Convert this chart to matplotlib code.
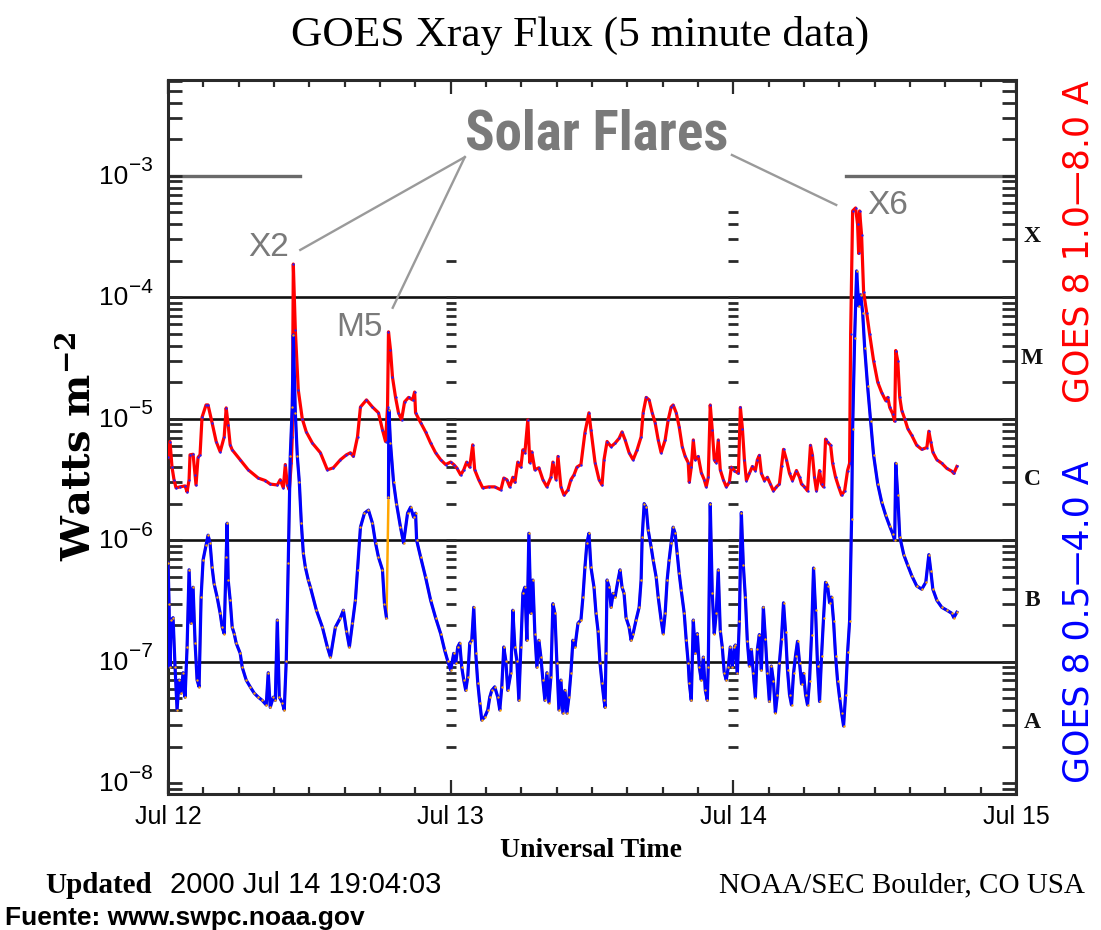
import numpy as np
import matplotlib
matplotlib.use("Agg")
import matplotlib.pyplot as plt
from matplotlib import font_manager
from matplotlib.ticker import FixedLocator, FixedFormatter, LogLocator, MultipleLocator, NullFormatter
from matplotlib.transforms import blended_transform_factory, offset_copy

# hours since 2000 Jul 12 00:00 UT, flux in W m^-2
red_hours = [
    0.00, 0.17, 0.34, 0.51, 0.68, 1.02, 1.45, 1.62, 1.79, 1.87,
    2.13, 2.30, 2.38, 2.55, 2.72, 2.89, 3.23, 3.40, 3.74, 4.09,
    4.43, 4.77, 4.94, 5.11, 5.28, 5.45, 6.13, 6.81, 7.66, 8.26,
    8.68, 9.28, 9.53, 9.79, 9.96, 10.13, 10.30, 10.47, 10.55, 10.64,
    10.81, 11.06, 11.40, 11.74, 12.26, 12.94, 13.53, 14.04, 14.64, 15.15,
    15.49, 15.74, 16.09, 16.34, 16.85, 17.36, 17.87, 18.21, 18.47, 18.64,
    18.72, 18.89, 19.06, 19.32, 19.57, 19.83, 20.09, 20.43, 20.77, 20.94,
    21.02, 21.45, 21.87, 22.30, 22.72, 23.15, 23.57,
    24.00, 24.26, 24.51, 24.85, 25.11, 25.36, 25.62, 25.87, 26.04, 26.38,
    26.72, 27.23, 27.74, 28.26, 28.51, 28.77, 29.02, 29.28, 29.45, 29.70,
    29.96, 30.13, 30.30, 30.55, 30.72, 30.89, 31.15, 31.49, 31.83, 32.17,
    32.51, 32.68, 32.94, 33.11, 33.36, 33.62, 33.96, 34.21, 34.47, 34.72,
    35.06, 35.40, 35.74, 35.91, 36.26, 36.60, 36.85, 37.02, 37.28, 37.62,
    37.96, 38.30, 38.55, 38.81, 39.15, 39.49, 39.83, 40.17, 40.34, 40.60,
    40.85, 41.11, 41.36, 41.62, 41.87, 42.21, 42.47, 42.72, 42.89, 43.15,
    43.40, 43.66, 43.91, 44.17, 44.26, 44.43, 44.60, 44.77, 45.02, 45.28,
    45.53, 45.70, 45.87, 46.04, 46.21, 46.38, 46.55, 46.72, 46.89, 47.15,
    47.40, 47.66, 47.83,
    48.09, 48.43, 48.60, 48.77, 48.94, 49.11, 49.36, 49.62, 49.87, 50.04,
    50.21, 50.38, 50.64, 50.89, 51.15, 51.40, 51.66, 51.91, 52.09, 52.26,
    52.51, 52.77, 53.02, 53.36, 53.62, 53.79, 54.04, 54.30, 54.55, 54.72,
    54.89, 55.06, 55.32, 55.49, 55.66, 55.83, 56.00, 56.26, 56.43, 56.68,
    56.94, 57.19, 57.45, 57.70, 57.87, 57.96, 58.13, 58.38, 58.55, 58.64,
    58.72, 58.89, 59.06, 59.32, 59.57, 59.91, 60.26, 60.60, 60.94, 61.11,
    61.28, 61.53, 61.70, 61.79, 61.96, 62.13, 62.30, 62.55, 62.81, 63.15,
    63.57, 64.00, 64.43, 64.60, 64.77, 64.94, 65.28, 65.70, 66.13, 66.55,
    66.72, 66.98,
]
red_flux = [
    4.8e-6, 6.5e-6, 4.0e-6, 3.15e-6, 2.7e-6, 2.75e-6, 2.8e-6, 2.5e-6, 3.15e-6, 5.05e-6,
    5.1e-6, 3.45e-6, 2.85e-6, 4.8e-6, 5.05e-6, 1.03e-5, 1.3e-5, 1.3e-5, 9.3e-6, 6.5e-6,
    5.35e-6, 7.1e-6, 1.23e-5, 8.9e-6, 6.1e-6, 5.55e-6, 4.6e-6, 3.8e-6, 3.25e-6, 3.1e-6,
    2.9e-6, 2.85e-6, 3.15e-6, 2.7e-6, 4.2e-6, 2.85e-6, 2.6e-6, 4.35e-6, 7.1e-6, 1.88e-4,
    5.4e-5, 1.73e-5, 1.0e-5, 7.8e-6, 6.3e-6, 5.25e-6, 3.8e-6, 3.95e-6, 4.6e-6, 5.05e-6,
    5.25e-6, 4.9e-6, 7.1e-6, 1.25e-5, 1.43e-5, 1.25e-5, 1.12e-5, 8.1e-6, 6.5e-6, 1.25e-5,
    5.2e-5, 3.7e-5, 2.2e-5, 1.5e-5, 1.12e-5, 9.8e-6, 1.38e-5, 1.5e-5, 1.43e-5, 1.66e-5,
    1.12e-5, 9.3e-6, 7.8e-6, 6.3e-6, 5.25e-6, 4.6e-6, 4.2e-6,
    4.4e-6, 4.2e-6, 3.95e-6, 3.45e-6, 3.8e-6, 4.4e-6, 4.0e-6, 6.1e-6, 3.8e-6, 3.15e-6,
    2.7e-6, 2.75e-6, 2.75e-6, 2.6e-6, 3.25e-6, 3.15e-6, 2.75e-6, 3.3e-6, 3.0e-6, 4.4e-6,
    4.0e-6, 5.55e-6, 5.25e-6, 9.8e-6, 4.35e-6, 5.35e-6, 3.8e-6, 3.95e-6, 3.15e-6, 2.75e-6,
    3.3e-6, 4.4e-6, 3.15e-6, 4.9e-6, 2.75e-6, 2.35e-6, 2.6e-6, 3.15e-6, 3.45e-6, 4.0e-6,
    4.2e-6, 7.7e-6, 1.12e-5, 8.1e-6, 4.35e-6, 3.15e-6, 2.85e-6, 4.6e-6, 6.5e-6, 5.9e-6,
    6.3e-6, 6.9e-6, 7.8e-6, 6.7e-6, 5.25e-6, 4.6e-6, 5.55e-6, 7.1e-6, 1.12e-5, 1.5e-5,
    1.43e-5, 1.12e-5, 9.3e-6, 6.7e-6, 5.25e-6, 6.7e-6, 9.8e-6, 1.25e-5, 1.3e-5, 1.12e-5,
    8.6e-6, 5.9e-6, 4.9e-6, 4.35e-6, 3.0e-6, 4.0e-6, 6.7e-6, 4.6e-6, 4.9e-6, 3.6e-6,
    3.15e-6, 2.75e-6, 3.3e-6, 1.3e-5, 8.1e-6, 4.6e-6, 4.35e-6, 6.7e-6, 3.8e-6, 3.15e-6,
    2.75e-6, 3.0e-6, 4.0e-6,
    3.75e-6, 3.55e-6, 1.24e-5, 8.3e-6, 4.6e-6, 3.1e-6, 3.55e-6, 4.05e-6, 3.75e-6, 4.6e-6,
    5.0e-6, 3.55e-6, 3.1e-6, 3.3e-6, 2.9e-6, 2.55e-6, 2.75e-6, 2.9e-6, 4.05e-6, 5.6e-6,
    4.6e-6, 3.55e-6, 3.1e-6, 3.75e-6, 3.3e-6, 2.9e-6, 2.75e-6, 2.55e-6, 6.05e-6, 5.0e-6,
    3.3e-6, 2.55e-6, 3.75e-6, 2.9e-6, 2.75e-6, 6.8e-6, 6.4e-6, 6.05e-6, 4.3e-6, 3.3e-6,
    2.75e-6, 2.35e-6, 2.55e-6, 3.75e-6, 4.3e-6, 5.0e-5, 5.15e-4, 5.45e-4, 4.0e-4, 2.3e-4,
    5.15e-4, 3.25e-4, 1.11e-4, 7.5e-5, 5.0e-5, 3.0e-5, 2.0e-5, 1.64e-5, 1.41e-5, 1.5e-5,
    1.24e-5, 1.1e-5, 9.55e-6, 3.65e-5, 3.0e-5, 1.5e-5, 1.17e-5, 1.0e-5, 8.3e-6, 7.3e-6,
    6.05e-6, 5.6e-6, 5.8e-6, 7.9e-6, 6.4e-6, 5.3e-6, 4.6e-6, 4.3e-6, 3.9e-6, 3.7e-6,
    3.55e-6, 4.05e-6,
]

blue_hours = [
    0.00, 0.09, 0.17, 0.26, 0.43, 0.60, 0.77, 0.94, 1.11, 1.28,
    1.45, 1.62, 1.79, 1.96, 2.13, 2.30, 2.47, 2.64, 2.81, 2.98,
    3.23, 3.40, 3.57, 3.74, 3.91, 4.17, 4.43, 4.60, 4.77, 4.94,
    5.02, 5.11, 5.28, 5.45, 5.62, 5.79, 6.13, 6.30, 6.64, 6.98,
    7.32, 7.66, 8.00, 8.34, 8.51, 8.68, 8.94, 9.11, 9.28, 9.45,
    9.70, 9.87, 10.04, 10.21, 10.38, 10.55, 10.64, 10.81, 10.98, 11.15,
    11.32, 11.49, 11.66, 11.91, 12.09, 12.60, 13.11, 13.53, 13.79, 14.21,
    14.64, 14.89, 15.15, 15.40, 15.66, 15.91, 16.09, 16.34, 16.68, 17.02,
    17.36, 17.62, 17.87, 18.21, 18.38, 18.55,
    18.72, 18.75, 18.89, 19.15, 19.40, 19.74, 20.00, 20.34, 20.60, 20.85,
    21.02, 21.11, 21.45, 21.87, 22.30, 22.72, 23.15, 23.49, 23.74,
    24.00, 24.26, 24.43, 24.60, 24.77, 24.94, 25.11, 25.28, 25.45, 25.62,
    25.79, 25.96, 26.13, 26.30, 26.47, 26.64, 26.89, 27.15, 27.32, 27.49,
    27.74, 28.00, 28.17, 28.34, 28.51, 28.68, 28.85, 29.11, 29.28, 29.45,
    29.62, 29.79, 29.96, 30.13, 30.30, 30.47, 30.64, 30.81, 30.98, 31.15,
    31.32, 31.49, 31.66, 31.83, 32.00, 32.17, 32.34, 32.51, 32.68, 32.85,
    33.02, 33.19, 33.36, 33.53, 33.70, 33.87, 34.04, 34.21, 34.38, 34.55,
    34.81, 35.06, 35.23, 35.40, 35.57, 35.74, 35.91, 36.17, 36.34, 36.51,
    36.68, 36.85, 37.02, 37.11, 37.19, 37.28, 37.45, 37.62, 37.79, 37.96,
    38.21, 38.38, 38.55, 38.72, 38.89, 39.15, 39.32, 39.49, 39.74, 40.00,
    40.17, 40.26, 40.43, 40.60, 40.77, 41.02, 41.19, 41.45, 41.62, 41.87,
    42.04, 42.21, 42.38, 42.55, 42.72, 42.89, 43.06, 43.23, 43.40, 43.57,
    43.83, 44.00, 44.17, 44.26, 44.43, 44.60, 44.77, 44.94, 45.11, 45.28,
    45.45, 45.62, 45.79, 45.87, 46.04, 46.21, 46.38, 46.55, 46.72, 46.89,
    47.06, 47.23, 47.40, 47.57, 47.74, 47.91, 48.09,
    48.17, 48.34, 48.51, 48.68, 48.85, 49.02, 49.19, 49.36, 49.53, 49.70,
    49.87, 50.04, 50.21, 50.38, 50.55, 50.72, 50.89, 51.06, 51.23, 51.40,
    51.57, 51.74, 51.91, 52.09, 52.26, 52.43, 52.60, 52.77, 52.94, 53.11,
    53.28, 53.45, 53.62, 53.79, 53.96, 54.13, 54.30, 54.47, 54.64, 54.81,
    54.98, 55.15, 55.32, 55.49, 55.66, 55.83, 56.00, 56.17, 56.34, 56.51,
    56.68, 56.85, 57.02, 57.19, 57.36, 57.53, 57.70, 57.87, 58.04, 58.13,
    58.30, 58.47, 58.64, 58.81, 58.98, 59.15, 59.40, 59.66, 59.91, 60.26,
    60.60, 60.94, 61.28, 61.53, 61.70, 61.79, 61.96, 62.13, 62.47, 62.81,
    63.15, 63.57, 64.00, 64.34, 64.60, 64.77, 64.94, 65.28, 65.70, 66.13,
    66.55, 66.72, 66.98,
]
blue_flux = [
    6.5e-7, 3.0e-7, 9.0e-8, 2.2e-7, 2.3e-7, 9.0e-8, 4.0e-8, 7.05e-8, 5.5e-8, 8.1e-8,
    5.1e-8, 1.32e-7, 5.7e-7, 2.07e-7, 4.1e-7, 1.42e-7, 7.05e-8, 6.2e-8, 3.4e-7, 6.9e-7,
    9.1e-7, 1.1e-6, 9.5e-7, 6.0e-7, 4.4e-7, 3.4e-7, 2.5e-7, 1.92e-7, 1.7e-7, 7.25e-7,
    1.38e-6, 4.7e-7, 3.2e-7, 1.92e-7, 1.7e-7, 1.42e-7, 1.17e-7, 9.0e-8, 7.05e-8, 6.2e-8,
    5.5e-8, 5.1e-8, 4.8e-8, 4.4e-8, 8.1e-8, 4.2e-8, 5.1e-8, 4.8e-8, 2.2e-7, 5.1e-8,
    4.6e-8, 4.0e-8, 1.02e-7, 6.5e-7, 4.9e-6, 1.25e-5, 4.9e-5, 1.12e-5, 4.9e-6, 3.0e-6,
    1.38e-6, 7.8e-7, 6.0e-7, 4.7e-7, 4.1e-7, 2.65e-7, 1.92e-7, 1.32e-7, 1.09e-7, 1.92e-7,
    2.3e-7, 2.65e-7, 1.8e-7, 1.32e-7, 2.07e-7, 3.2e-7, 5.7e-7, 1.28e-6, 1.67e-6, 1.77e-6,
    1.38e-6, 9.5e-7, 7.25e-7, 5.7e-7, 3.0e-7, 2.3e-7,
    2.26e-6, 1.18e-5, 6.3e-6, 3.0e-6, 2.0e-6, 1.28e-6, 9.5e-7, 1.67e-6, 1.87e-6, 1.55e-6,
    1.67e-6, 1.0e-6, 7.25e-7, 4.95e-7, 3.2e-7, 2.3e-7, 1.7e-7, 1.24e-7, 1.02e-7,
    8.5e-8, 1.17e-7, 9.7e-8, 1.32e-7, 1.42e-7, 9.0e-8, 7.05e-8, 5.8e-8, 7.5e-8, 1.42e-7,
    1.5e-7, 2.8e-7, 1.17e-7, 6.7e-8, 4.6e-8, 3.3e-8, 3.5e-8, 4.0e-8, 5.1e-8, 5.8e-8,
    6.2e-8, 5.1e-8, 4.0e-8, 6.2e-8, 1.32e-7, 1.02e-7, 5.8e-8, 8.1e-8, 2.65e-7, 1.32e-7,
    1.02e-7, 4.8e-8, 1.32e-7, 3.65e-7, 4.1e-7, 1.5e-7, 1.14e-6, 2.5e-7, 4.7e-7, 1.7e-7,
    9.0e-8, 1.5e-7, 1.09e-7, 7.05e-8, 4.8e-8, 8.1e-8, 4.6e-8, 7.5e-8, 3.0e-7, 2.5e-7,
    9.7e-8, 4.0e-8, 7.05e-8, 3.77e-8, 5.8e-8, 3.77e-8, 5.1e-8, 8.1e-8, 1.5e-7, 1.32e-7,
    2.07e-7, 2.2e-7, 3.4e-7, 6.0e-7, 9.5e-7, 1.14e-6, 6.0e-7, 4.1e-7, 2.5e-7, 1.8e-7,
    9.7e-8, 6.7e-8, 4.8e-8, 4.2e-8, 1.17e-7, 4.7e-7, 4.1e-7, 2.8e-7, 3.65e-7, 3.4e-7,
    4.7e-7, 5.7e-7, 4.1e-7, 3.65e-7, 2.3e-7, 1.92e-7, 1.5e-7, 1.7e-7, 2.2e-7, 2.8e-7,
    4.7e-7, 1.06e-6, 2.0e-6, 1.87e-6, 1.21e-6, 8.8e-7, 6.9e-7, 4.95e-7, 3.4e-7, 2.2e-7,
    1.7e-7, 2.5e-7, 4.7e-7, 6.9e-7, 9.5e-7, 1.28e-6, 1.14e-6, 7.8e-7, 5.35e-7, 3.9e-7,
    2.5e-7, 1.5e-7, 9.7e-8, 6.7e-8, 4.8e-8, 2.2e-7, 1.17e-7, 1.7e-7, 9.0e-8, 7.05e-8,
    1.09e-7, 5.8e-8, 4.8e-8, 9.0e-8, 2.0e-6, 3.65e-7, 1.7e-7, 2.5e-7, 5.7e-7, 1.8e-7,
    1.32e-7, 8.1e-8, 7.05e-8, 9.0e-8, 1.32e-7, 9.0e-8, 1.32e-7,
    1.37e-7, 8.0e-8, 2.15e-7, 1.69e-6, 6.2e-7, 3.4e-7, 1.47e-7, 9.2e-8, 1.26e-7, 8.0e-8,
    5.05e-8, 1.26e-7, 1.67e-7, 8.5e-8, 2.8e-7, 1.55e-7, 8.0e-8, 4.7e-8, 9.2e-8, 6.95e-8,
    3.8e-8, 5.35e-8, 9.75e-8, 1.55e-7, 3.05e-7, 1.77e-7, 8.5e-8, 5.35e-8, 4.4e-8, 8.0e-8,
    1.12e-7, 1.47e-7, 9.75e-8, 6.55e-8, 8.0e-8, 5.35e-8, 4.4e-8, 6.95e-8, 1.67e-7, 5.9e-7,
    2.65e-7, 9.2e-8, 4.7e-8, 1.12e-7, 2.3e-7, 4.5e-7, 4.2e-7, 3.05e-7, 3.4e-7, 2.15e-7,
    1.12e-7, 6.95e-8, 5.05e-8, 3.8e-8, 2.95e-8, 5.35e-8, 1.19e-7, 2.15e-7, 1.5e-6, 8.3e-6,
    4.65e-5, 1.65e-4, 8.5e-5, 1.05e-4, 7.5e-5, 3.85e-5, 1.85e-5, 9.55e-6, 5.0e-6, 2.9e-6,
    2.05e-6, 1.6e-6, 1.3e-6, 1.13e-6, 1.0e-6, 4.3e-6, 2.35e-6, 1.07e-6, 7.6e-7, 6.2e-7,
    5.1e-7, 4.2e-7, 3.95e-7, 4.5e-7, 7.6e-7, 5.55e-7, 3.95e-7, 3.2e-7, 2.8e-7, 2.65e-7,
    2.5e-7, 2.3e-7, 2.55e-7,
]
# short drop-out in the 0.5-4.0 A channel just before the M5 flare
blue_gap_after = 18.55

day_ticks = [0, 24, 48, 72]
day_labels = ["Jul 12", "Jul 13", "Jul 14", "Jul 15"]
decades = [1e-8, 1e-7, 1e-6, 1e-5, 1e-4, 1e-3]
exponents = ["\u22128", "\u22127", "\u22126", "\u22125", "\u22124", "\u22123"]
class_letters = ["X", "M", "C", "B", "A"]
class_centres = [3.16e-4, 3.16e-5, 3.16e-6, 3.16e-7, 3.16e-8]

installed = {f.name for f in font_manager.fontManager.ttflist}
narrow = "Liberation Sans"
for cand in ["Liberation Sans Narrow", "Roboto Condensed", "Open Sans Condensed", "Arial Narrow"]:
    if cand in installed:
        narrow = cand
        break

plt.rcParams["font.family"] = ["Liberation Sans", "DejaVu Sans"]
plt.rcParams["mathtext.default"] = "regular"

W, H = 1101, 930
fig = plt.figure(figsize=(W / 100, H / 100), dpi=100)
ax = fig.add_axes([168 / W, 1 - 794 / H, 848 / W, 714 / H])
ax.set_yscale("log")
ax.set_xlim(0, 72)
ax.set_ylim(10 ** -8.09, 10 ** -2.21)
renderer = fig.canvas.get_renderer()


def fit(t, size_px, vertical=False):
    # scale font so the text spans size_px pixels
    bb = t.get_window_extent(renderer)
    cur = bb.height if vertical else bb.width
    t.set_fontsize(t.get_fontsize() * size_px / cur)


grey = "#7a7a7a"
dark = "#2a2a2a"

# class boundaries
for v in [1e-4, 1e-5, 1e-6, 1e-7]:
    ax.axhline(v, color="#111111", lw=1.9, zorder=1)
ax.axhline(1e-3, xmin=0, xmax=0.156, color="#6a6a6a", lw=2.4, zorder=1)
ax.axhline(1e-3, xmin=0.80, xmax=1, color="#6a6a6a", lw=2.4, zorder=1)

# dashed tick columns at the day boundaries
minor_vals = np.array([m * 10.0 ** d for d in range(-8, -2) for m in range(1, 10)])
for day, top in [(24, 2.5e-4), (48, 5.5e-4)]:
    vals = minor_vals[(minor_vals > 1.5e-8) & (minor_vals < top)]
    ax.plot(np.full(len(vals), day), vals, ls="none", marker="_", ms=7, mew=2,
            color=dark, zorder=2)

rh = np.array(red_hours)
rf = np.array(red_flux)
bh = np.array(blue_hours)
bf = np.array(blue_flux)

ax.plot(rh, rf, color="#ff0000", lw=2.3, zorder=3,
        marker="o", ms=1.7, mfc="#2020ff", mec="none")
ax.plot(bh, bf, color="#ffa500", lw=1.8, zorder=4)
before = bh <= blue_gap_after
ax.plot(bh[before], bf[before], color="#0000ff", lw=2.3, zorder=5)
ax.plot(bh[~before], bf[~before], color="#0000ff", lw=2.3, zorder=5)
ax.plot(bh, bf, ls="none", marker="o", ms=1.7, mfc="#ffa500", mec="none", zorder=6)

# axes, ticks
for s in ax.spines.values():
    s.set_color(dark)
    s.set_linewidth(2.2)

ax.xaxis.set_major_locator(FixedLocator(day_ticks))
ax.xaxis.set_major_formatter(FixedFormatter(day_labels))
ax.xaxis.set_minor_locator(MultipleLocator(3))
ax.tick_params(axis="x", which="both", direction="in", top=True, bottom=True,
               color=dark, width=1.6)
ax.tick_params(axis="x", which="major", length=10, labelsize=18, pad=8)
ax.tick_params(axis="x", which="minor", length=5)

ax.yaxis.set_major_locator(FixedLocator(decades))
ax.yaxis.set_major_formatter(NullFormatter())
ax.yaxis.set_minor_locator(LogLocator(base=10, subs=np.arange(2, 10)))
ax.yaxis.set_minor_formatter(NullFormatter())
ax.tick_params(axis="y", which="both", direction="in", left=True, right=True,
               length=10, width=2, color=dark)

# decade labels written as "10" with a raised exponent
ytr = blended_transform_factory(ax.transAxes, ax.transData)
base_tr = offset_copy(ytr, fig=fig, x=-40, y=-1, units="dots")
exp_tr = offset_copy(ytr, fig=fig, x=-39, y=10, units="dots")
for v, e in zip(decades, exponents):
    ax.text(0, v, "10", transform=base_tr, ha="right", va="center", fontsize=19)
    ax.text(0, v, e, transform=exp_tr, ha="left", va="center", fontsize=15)

# GOES class letters on the right
for lab, v in zip(class_letters, class_centres):
    ax.text(1.019, v, lab, transform=ytr, ha="center", va="center",
            family="Liberation Serif", fontweight="bold", fontsize=17, color="#111111")

# annotations
sf = ax.text(0.506, 0.923, "Solar Flares", transform=ax.transAxes, ha="center", va="center",
             family=narrow, fontweight="bold", fontsize=40, color=grey)
fit(sf, 263)
ax.text(0.119, 0.765, "X2", transform=ax.transAxes, ha="center", va="center",
        fontsize=24, color=grey)
ax.text(0.226, 0.654, "M5", transform=ax.transAxes, ha="center", va="center",
        fontsize=24, color=grey)
ax.text(0.849, 0.824, "X6", transform=ax.transAxes, ha="center", va="center",
        fontsize=24, color=grey)
lc = "#9a9a9a"
ax.plot([0.350, 0.156], [0.892, 0.762], transform=ax.transAxes, color=lc, lw=1.7, zorder=7)
ax.plot([0.350, 0.265], [0.892, 0.681], transform=ax.transAxes, color=lc, lw=1.7, zorder=7)
ax.plot([0.665, 0.788], [0.895, 0.825], transform=ax.transAxes, color=lc, lw=1.7, zorder=7)

# titles and labels
title = fig.text(0.527, 0.962, "GOES Xray Flux (5 minute data)", ha="center", va="center",
                 family="Liberation Serif", fontsize=30)
fit(title, 578)
yl = fig.text(0.071, 0.52, r"Watts m$^{-2}$", ha="center", va="center", rotation=90,
              family="DejaVu Serif", fontweight="bold", fontsize=26)
fit(yl, 230, vertical=True)
fig.text(0.537, 0.086, "Universal Time", ha="center", va="center",
         family="Liberation Serif", fontweight="bold", fontsize=20)
fig.text(0.98, 0.74, "GOES 8 1.0\u20148.0 A", ha="center", va="center", rotation=90,
         family="DejaVu Sans", fontsize=25, color="#ff0000")
fig.text(0.98, 0.331, "GOES 8 0.5\u20144.0 A", ha="center", va="center", rotation=90,
         family="DejaVu Sans", fontsize=25, color="#0000ff")
fig.text(45 / W, 0.048, "Updated", ha="left", va="center",
         family="Liberation Serif", fontweight="bold", fontsize=21)
fig.text(170 / W, 0.048, "2000 Jul 14 19:04:03", ha="left", va="center", fontsize=21)
fig.text(1085 / W, 0.048, "NOAA/SEC Boulder, CO USA", ha="right", va="center",
         family="Liberation Serif", fontsize=21)
fig.text(5 / W, 0.013, "Fuente: www.swpc.noaa.gov", ha="left", va="center",
         fontweight="bold", fontsize=19)

fig.savefig("out.png", dpi=100)
